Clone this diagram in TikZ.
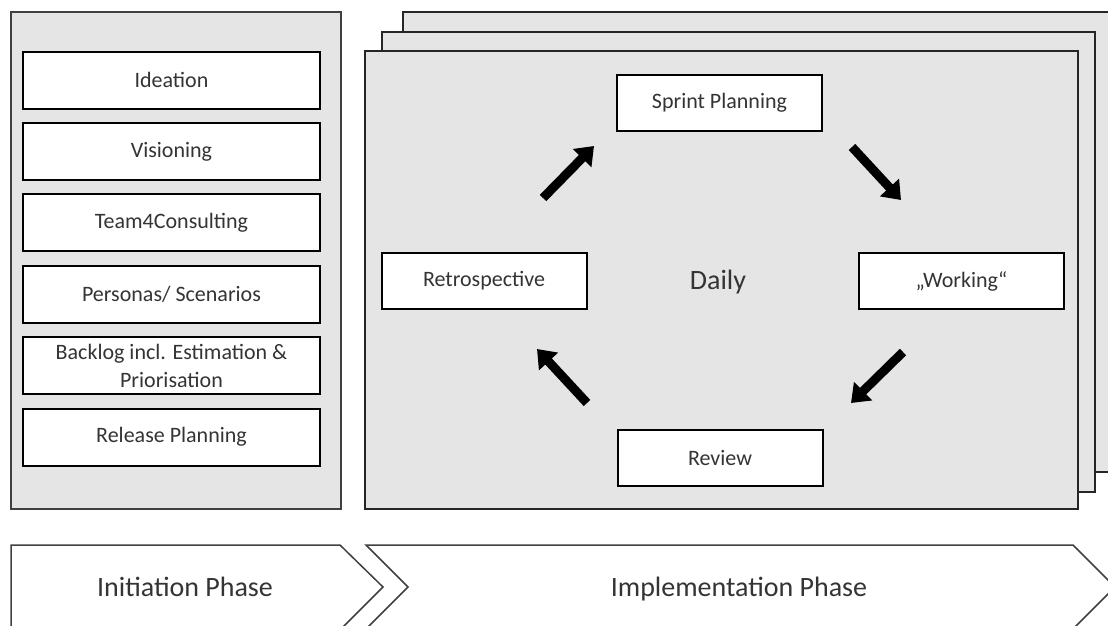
\documentclass[tikz,border=0pt]{standalone}
\usepackage{fontspec}
\setmainfont{Carlito}
\usetikzlibrary{positioning,arrows.meta}
\definecolor{panelgray}{RGB}{230,229,230}
\definecolor{textgray}{RGB}{52,52,52}

\begin{document}
\begin{tikzpicture}[
      x=1pt, y=-1pt,
      node distance=12.4pt,
      every node/.style={font=\fontsize{22}{28}\selectfont, text=textgray},
      panel/.style={draw=black!75, line width=1.5pt, fill=panelgray},
      sheet/.style={draw=black!85, line width=1.8pt, fill=panelgray},
      stepbox/.style={draw=black, line width=2pt, fill=white, minimum width=297pt, minimum height=57pt, inner sep=2pt, align=center},
      loopbox/.style={draw=black, line width=2pt, fill=white, minimum width=205pt, minimum height=56pt},
      phase/.style={draw=black!75, line width=1.5pt, fill=white},
      biglabel/.style={font=\fontsize{28}{34}\selectfont, anchor=base},
      bigarrow/.style={line width=9pt, -{Triangle[length=17pt, width=25pt]}},
    ]
    \useasboundingbox (0,0) rectangle (1108,625);
    \clip (0,0) rectangle (1108,625);

    % initiation column
    \draw[panel] (11,12) rectangle (341,509);
    \node[stepbox] (ideation) at (171.5,80) {Ideation};
    \node[stepbox, below=of ideation] (vision) {Visioning};
    \node[stepbox, below=of vision] (team) {Team4Consulting};
    \node[stepbox, below=of team] (personas) {Personas/ Scenarios};
    \node[stepbox, below=of personas] (backlog) {Backlog incl. Estimation \&\\ Priorisation};
    \node[stepbox, below=of backlog] (release) {Release Planning};

    % stacked sprints
    \draw[sheet] (403,12) rectangle (1120,472);
    \draw[sheet] (382,32) rectangle (1095,492);
    \draw[sheet] (365,51) rectangle (1078,509);

    \node[loopbox] (sprint) at (719.5,103) {Sprint Planning};
    \node[loopbox] (working) at (961.5,281) {„Working“};
    \node[loopbox] (review) at (720,457.5) {Review};
    \node[loopbox] (retro) at (484,281) {Retrospective};
    \node[biglabel] (daily) at (718,289) {Daily};

    \coordinate (a1) at (543,198); \coordinate (b1) at (594,146);
    \coordinate (a2) at (852,147); \coordinate (b2) at (901,200);
    \coordinate (a3) at (903,352); \coordinate (b3) at (851,403);
    \coordinate (a4) at (587,403); \coordinate (b4) at (537,349);
    \draw[bigarrow] (a1) -- (b1);
    \draw[bigarrow] (a2) -- (b2);
    \draw[bigarrow] (a3) -- (b3);
    \draw[bigarrow] (a4) -- (b4);

    % phases
    \draw[phase] (11,640) -- (11,545) -- (340,545) -- (383,587) -- (330,640);
    \draw[phase] (355,640) -- (408,587) -- (366,545) -- (1073,545) -- (1115,587) -- (1062,640);
    \node[biglabel] (init) at (185,596) {Initiation Phase};
    \node[biglabel] (impl) at (739,596) {Implementation Phase};
  \end{tikzpicture}
\end{document}
